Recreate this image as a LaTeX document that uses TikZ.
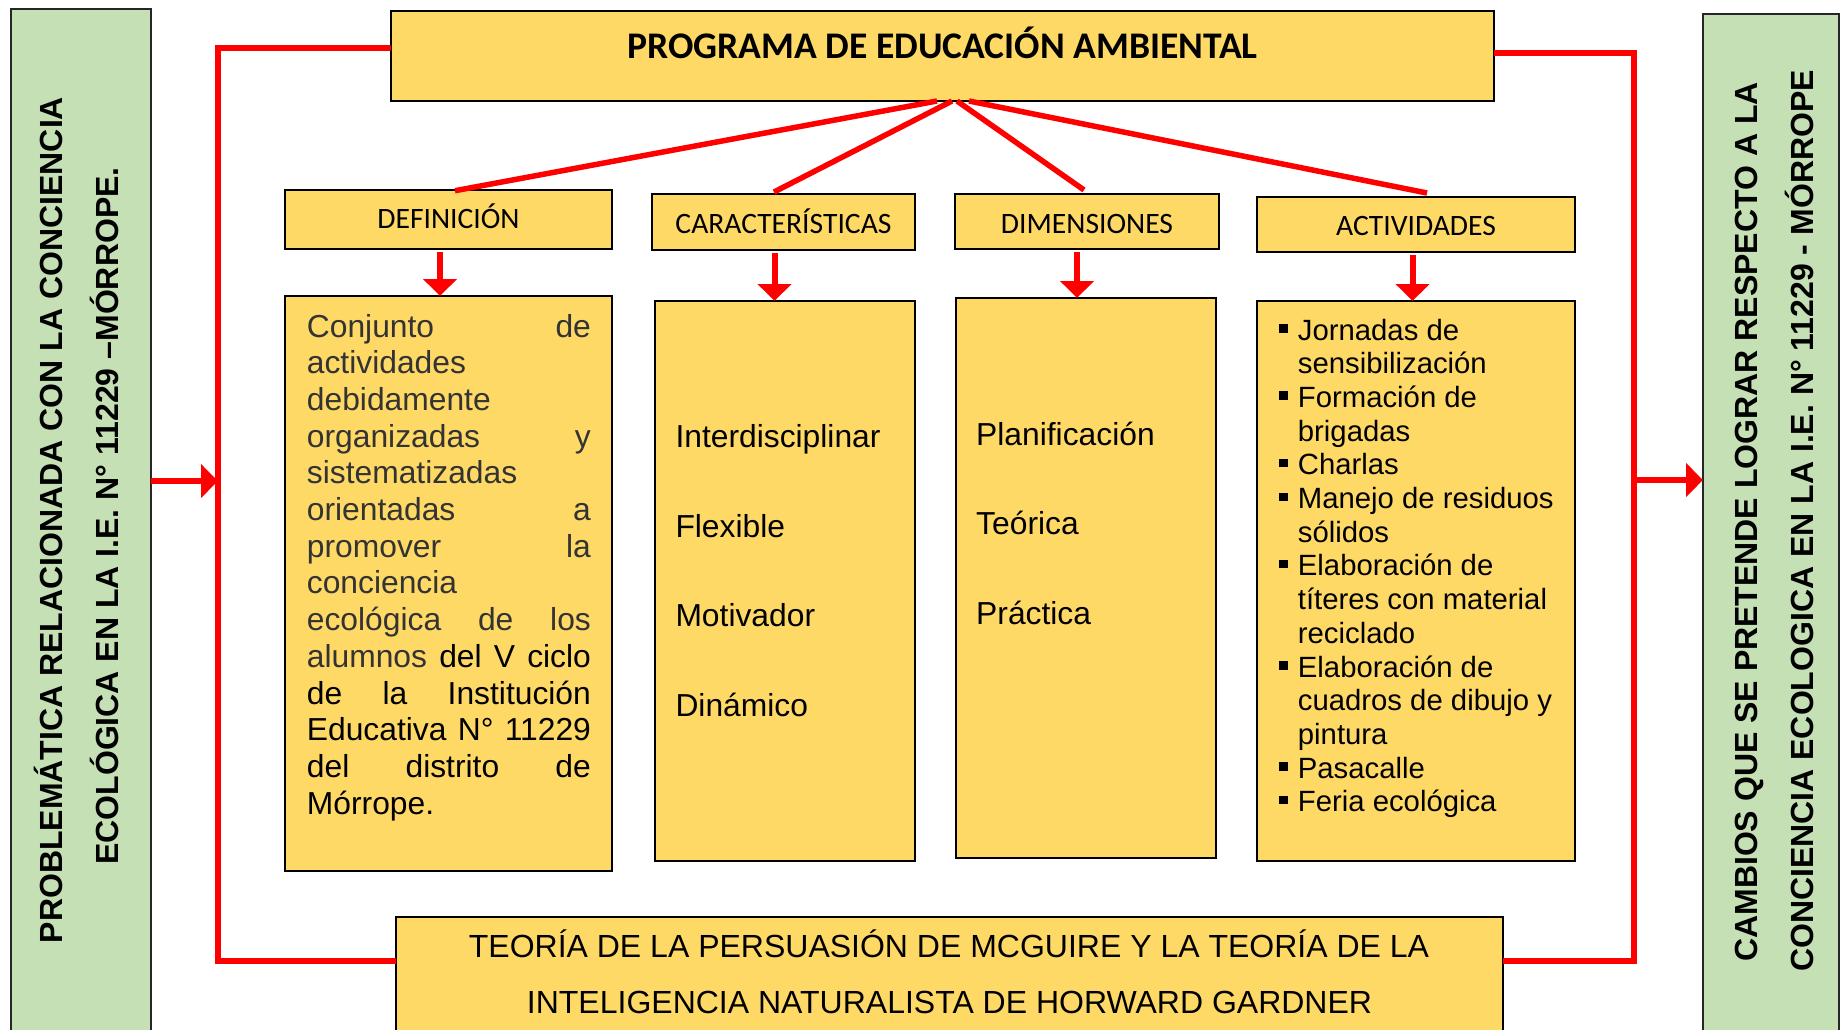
\documentclass[tikz,border=0pt]{standalone}
\usepackage{fontspec}
\setmainfont{Liberation Sans}
\newfontfamily\calibri{Carlito}
\usetikzlibrary{arrows.meta}
\definecolor{yel}{HTML}{FFD966}
\definecolor{grn}{HTML}{C5E0B4}
\definecolor{redc}{HTML}{FF0000}
\definecolor{dgray}{HTML}{333333}
\newcommand\bodyfont{\fontsize{31.8pt}{36.7pt}\selectfont}
\newcommand\actfont{\fontsize{29.3pt}{33.7pt}\selectfont}
\newcommand\bul{\leavevmode\llap{\rule[7.5pt]{8.5pt}{8.5pt}\hspace{10pt}}}
\newcommand\jline[1]{\makebox[284pt][s]{#1}}
\begin{document}
\begin{tikzpicture}[x=1pt,y=-1pt,
  ybox/.style={draw=black, line width=1.6pt, fill=yel, inner sep=0pt, outer sep=0pt},
  gbox/.style={draw=black!85, line width=1.6pt, fill=grn, inner sep=0pt, outer sep=0pt},
  redline/.style={draw=redc, line width=5.5pt},
  redarrow/.style={draw=redc, line width=6pt, -{Triangle[width=33pt,length=17pt]}},
  headtext/.style={font=\calibri\fontsize{29.6pt}{29.6pt}\selectfont, anchor=base, inner sep=0pt},
  itemtext/.style={font=\bodyfont, anchor=base west, inner sep=0pt},
  sidetext/.style={font=\bfseries\fontsize{32pt}{32pt}\selectfont, anchor=base, rotate=90, inner sep=0pt},
  bottext/.style={font=\fontsize{32pt}{32pt}\selectfont, anchor=base, inner sep=0pt}]
\useasboundingbox (0,0) rectangle (1848,1029);
\clip (0,0) rectangle (1848,1029);
\fill[white] (0,0) rectangle (1848,1029);

% side boxes
\node[gbox, minimum width=140pt, minimum height=1051pt] (lgreen) at (81,534.5) {};
\node[gbox, minimum width=136pt, minimum height=1046pt] (rgreen) at (1771,537) {};
\node[sidetext] (l1) at (62,520) {PROBLEMÁTICA RELACIONADA CON LA CONCIENCIA};
\node[sidetext] (l2) at (118.5,516) {ECOLÓGICA EN LA I.E. N° 11229 –MÓRROPE.};
\node[sidetext] (r1) at (1757,522) {CAMBIOS QUE SE PRETENDE LOGRAR RESPECTO A LA};
\node[sidetext] (r2) at (1813,521) {CONCIENCIA ECOLOGICA EN LA I.E. N° 11229 - MÓRROPE};

% main boxes
\node[ybox, minimum width=1103pt, minimum height=90pt] (title) at (942.5,56) {};
\node[font=\calibri\bfseries\fontsize{37.6pt}{37.6pt}\selectfont, anchor=base, inner sep=0pt] (titletext) at (942.5,58.5) {PROGRAMA DE EDUCACIÓN AMBIENTAL};

\node[ybox, minimum width=327pt, minimum height=59pt] (defh) at (448.5,219.5) {};
\node[ybox, minimum width=263pt, minimum height=56pt] (carh) at (783.5,222) {};
\node[ybox, minimum width=264pt, minimum height=55pt] (dimh) at (1087,221.5) {};
\node[ybox, minimum width=318pt, minimum height=55pt] (acth) at (1416,224.5) {};
\node[headtext] (defht) at (448.5,228.5) {DEFINICIÓN};
\node[headtext] (carht) at (783.5,233) {CARACTERÍSTICAS};
\node[headtext] (dimht) at (1087,233) {DIMENSIONES};
\node[headtext] (acht) at (1416,235) {ACTIVIDADES};

\node[ybox, minimum width=327pt, minimum height=575pt] (defc) at (448.5,583.5) {};
\node[ybox, minimum width=260pt, minimum height=560pt] (carc) at (785,581) {};
\node[ybox, minimum width=260pt, minimum height=560pt] (dimc) at (1086,578) {};
\node[ybox, minimum width=318pt, minimum height=560pt] (actc) at (1416,581) {};

\node[ybox, minimum width=1107pt, minimum height=143pt] (bottom) at (949.5,988.5) {};
\node[bottext] (b1) at (949,957) {TEORÍA DE LA PERSUASIÓN DE MCGUIRE Y LA TEORÍA DE LA};
\node[bottext] (b2) at (949.5,1013) {INTELIGENCIA NATURALISTA DE HORWARD GARDNER};

% definition text
\node[anchor=base west, inner sep=0pt, text=dgray] (deftext) at (306.7,337) {\parbox[t]{284pt}{\bodyfont
\jline{Conjunto de}\\
actividades\\
debidamente\\
\jline{organizadas y}\\
sistematizadas\\
\jline{orientadas a}\\
\jline{promover la}\\
conciencia\\
\jline{ecológica de los}\\
\jline{alumnos \color{black}del V ciclo}\\
\color{black}\jline{de la Institución}\\
\jline{Educativa N° 11229}\\
\jline{del distrito de}\\
Mórrope.}};

% characteristics
\node[itemtext] (c1) at (675.3,447.5) {Interdisciplinar};
\node[itemtext] (c2) at (675.3,537.5) {Flexible};
\node[itemtext] (c3) at (675.3,626.5) {Motivador};
\node[itemtext] (c4) at (675.3,716.5) {Dinámico};

% dimensions
\node[itemtext] (d1) at (976,445.5) {Planificación};
\node[itemtext] (d2) at (976,534.5) {Teórica};
\node[itemtext] (d3) at (976,624.5) {Práctica};

% activities
\node[anchor=base west, inner sep=0pt] (acttext) at (1297.7,340) {\parbox[t]{270pt}{\actfont
\bul Jornadas de\\
sensibilización\\
\bul Formación de\\
brigadas\\
\bul Charlas\\
\bul Manejo de residuos\\
sólidos\\
\bul Elaboración de\\
títeres con material\\
reciclado\\
\bul Elaboración de\\
cuadros de dibujo y\\
pintura\\
\bul Pasacalle\\
\bul Feria ecológica}};

% fan lines
\draw[redline] ([xshift=-5.5pt]title.south) -- ([xshift=6.5pt,yshift=-0.7pt]defh.north);
\draw[redline] ([xshift=9.5pt]title.south) -- ([xshift=-9.5pt,yshift=2pt]carh.north);
\draw[redline] ([xshift=14.5pt]title.south) -- ([xshift=-3pt,yshift=4pt]dimh.north);
\draw[redline] ([xshift=26.5pt]title.south) -- ([xshift=11pt,yshift=4pt]acth.north);

% down arrows
\draw[redarrow, shorten <=3pt] ([xshift=-8.5pt]defh.south) -- ([xshift=-8.5pt]defc.north);
\draw[redarrow, shorten <=3pt] ([xshift=-9pt]carh.south) -- ([xshift=-10.5pt]carc.north);
\draw[redarrow, shorten <=3pt] ([xshift=-10pt]dimh.south) -- ([xshift=-9pt]dimc.north);
\draw[redarrow, shorten <=3pt] ([xshift=-3.5pt]acth.south) -- ([xshift=-3.5pt]actc.north);

% brackets
\coordinate (ltop) at (218,48);
\coordinate (lbot) at (218,961);
\coordinate (rtop) at (1634,53);
\coordinate (rbot) at (1634,961);
\draw[redline] (title.west |- ltop) -- (ltop) -- (lbot) -- (bottom.west |- lbot);
\draw[redline] (title.east |- rtop) -- (rtop) -- (rbot) -- (bottom.east |- rbot);

% side arrows
\coordinate (la) at (218,481);
\coordinate (ra) at (1634,480);
\draw[redarrow] (lgreen.east |- la) -- (la);
\draw[redarrow] (ra) -- (rgreen.west |- ra);
\end{tikzpicture}
\end{document}
